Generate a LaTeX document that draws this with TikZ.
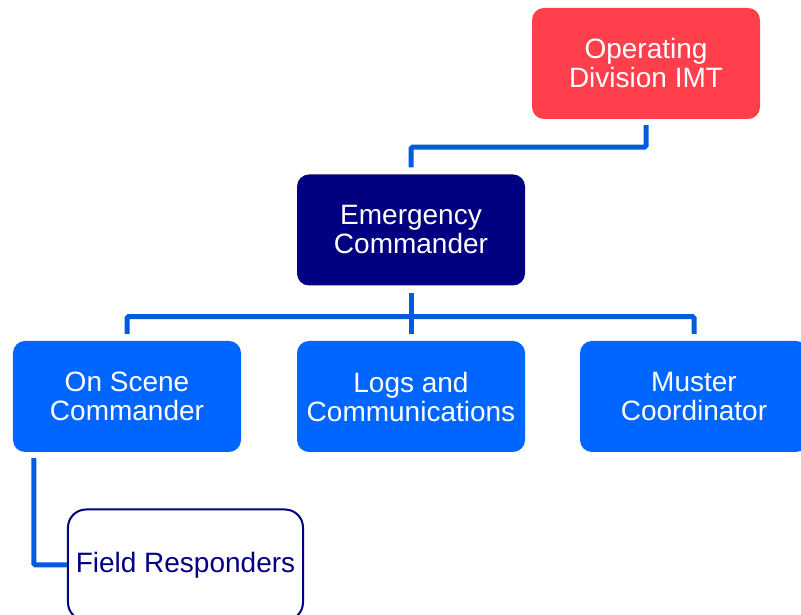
\documentclass[tikz,border=0pt]{standalone}
\usepackage{fontspec}
\setmainfont{Liberation Sans}
\usepackage{xcolor}
\usepackage{tikz}
\definecolor{red}{RGB}{255, 64, 76}
\definecolor{navy}{RGB}{0, 0, 128}
\definecolor{blue}{RGB}{0, 102, 255}
\definecolor{linkblue}{RGB}{0, 92, 220}

\tikzset{
  box/.style={rounded corners=12bp, minimum width=228bp, minimum height=111bp,
    inner sep=0pt, align=center, text=white, font=\fontsize{28bp}{29bp}\selectfont},
  link/.style={draw=linkblue, line width=5bp, rounded corners=1.5bp}
}

\begin{document}
\begin{tikzpicture}[x=1bp, y=1bp]
    \useasboundingbox (0,0) rectangle (801,615);

    % Top: division IMT and emergency commander
    \node[box, fill=red] (imt) at (646, 551.5) {Operating\\Division IMT};
    \node[box, fill=navy] (ec) at (411, 385) {Emergency\\Commander};

    % Second row
    \node[box, fill=blue] (osc) at (127, 218.5) {On Scene\\Commander};
    \node[box, fill=blue] (logs) at (411, 218.5) {Logs and\\Communications};
    \node[box, fill=blue] (muster) at (694, 218.5) {Muster\\Coordinator};

    % Field responders, outlined
    \node[box, fill=white, draw=navy, line width=2bp, rounded corners=18bp,
          minimum width=235bp, text=navy] (field) at (185.5, 50) {Field Responders};

    % connectors
    \draw[link] ([yshift=-6bp]imt.south) -- ++(0,-22) -| ([yshift=7bp]ec.north);
    \draw[link] ([yshift=7bp]osc.north) |- ([yshift=-31bp]ec.south)
                -| ([yshift=7bp]muster.north);
    \draw[link] ([yshift=7bp]logs.north) -- ([yshift=-7bp]ec.south);
    \draw[link] ([xshift=21bp, yshift=-6bp]osc.south west) |- (field.west);
  \end{tikzpicture}
\end{document}
